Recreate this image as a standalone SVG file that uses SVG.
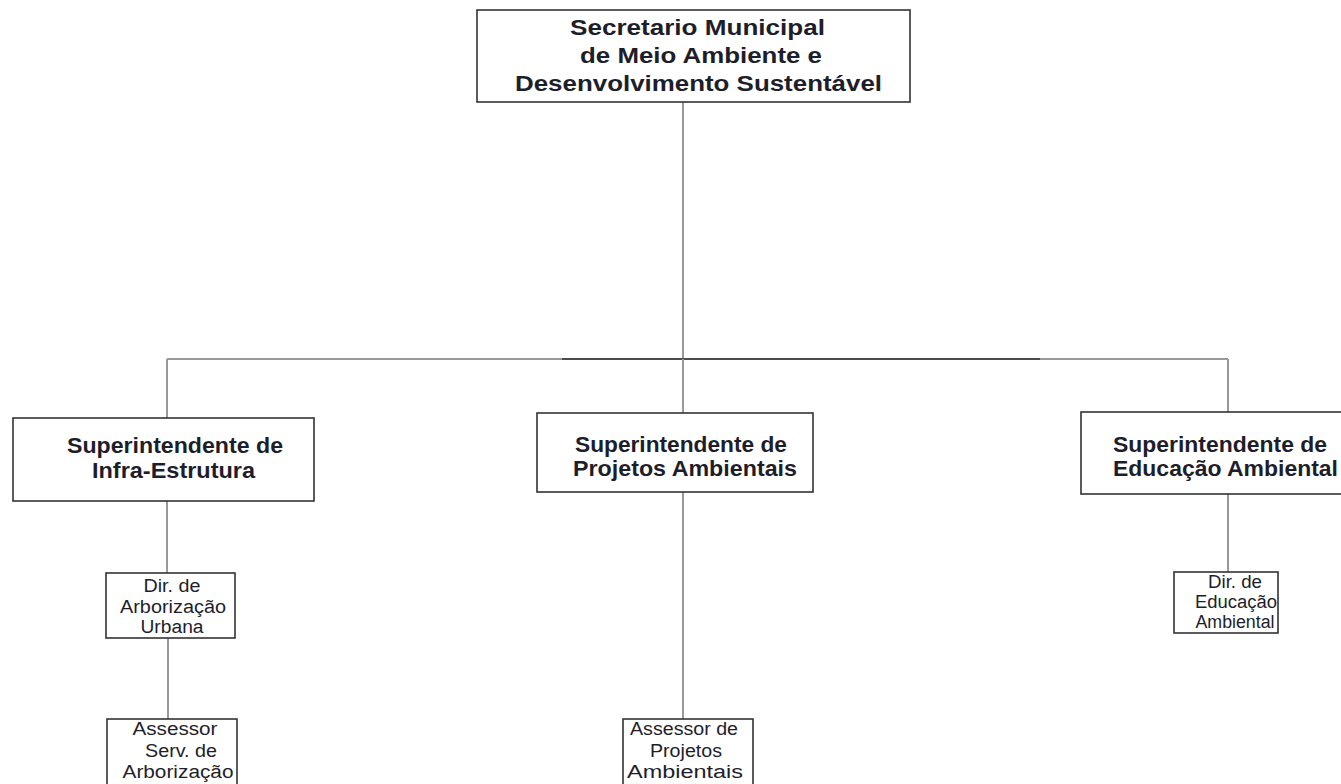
<svg xmlns="http://www.w3.org/2000/svg" width="1341" height="784" viewBox="0 0 1341 784">
<style>
.box{fill:#fff;stroke:#333;stroke-width:1.6}
.con{stroke:#999;stroke-width:2;fill:none}
.dark{stroke:#333;stroke-width:1.6;fill:none}
.b{font-family:"Liberation Sans",Arial,sans-serif;font-weight:bold;font-size:22px;fill:#1e1e2a}
.s{font-family:"Liberation Sans",Arial,sans-serif;font-size:18px;fill:#1e1e2a;text-anchor:middle}
</style>
<rect width="1341" height="784" fill="#fff"/>
<g id="connectors">
<line class="con" x1="683" y1="102" x2="683" y2="359"/>
<line class="con" x1="167" y1="359" x2="1228" y2="359"/>
<line class="dark" x1="562" y1="359" x2="1040" y2="359"/>
<line class="con" x1="167" y1="359" x2="167" y2="418"/>
<line class="con" x1="683" y1="359" x2="683" y2="413"/>
<line class="con" x1="1228" y1="359" x2="1228" y2="412"/>
<line class="con" x1="167" y1="501" x2="167" y2="573"/>
<line class="con" x1="168" y1="638" x2="168" y2="719"/>
<line class="con" x1="683" y1="492" x2="683" y2="719"/>
<line class="con" x1="1228" y1="494" x2="1228" y2="572"/>
</g>
<g id="secretario">
<rect class="box" x="477" y="10" width="433" height="92"/>
<text class="b" x="570" y="35" textLength="255" lengthAdjust="spacingAndGlyphs">Secretario Municipal</text>
<text class="b" x="580" y="63" textLength="242" lengthAdjust="spacingAndGlyphs">de Meio Ambiente e</text>
<text class="b" x="515" y="91" textLength="367" lengthAdjust="spacingAndGlyphs">Desenvolvimento Sustentável</text>
</g>
<g id="sup-infra">
<rect class="box" x="13" y="418" width="301" height="83"/>
<text class="b" x="67" y="453" textLength="216" lengthAdjust="spacingAndGlyphs">Superintendente de</text>
<text class="b" x="92" y="478" textLength="163" lengthAdjust="spacingAndGlyphs">Infra-Estrutura</text>
</g>
<g id="sup-projetos">
<rect class="box" x="537" y="413" width="276" height="79"/>
<text class="b" x="575" y="452" textLength="212" lengthAdjust="spacingAndGlyphs">Superintendente de</text>
<text class="b" x="573" y="476" textLength="224" lengthAdjust="spacingAndGlyphs">Projetos Ambientais</text>
</g>
<g id="sup-educacao">
<rect class="box" x="1081" y="412" width="280" height="82"/>
<text class="b" x="1113" y="452" textLength="214" lengthAdjust="spacingAndGlyphs">Superintendente de</text>
<text class="b" x="1113" y="476" textLength="225" lengthAdjust="spacingAndGlyphs">Educação Ambiental</text>
</g>
<g id="dir-arborizacao">
<rect class="box" x="106" y="573" width="129" height="65"/>
<text class="s" x="172" y="592" textLength="57" lengthAdjust="spacingAndGlyphs">Dir. de</text>
<text class="s" x="173" y="613" textLength="106" lengthAdjust="spacingAndGlyphs">Arborização</text>
<text class="s" x="172" y="633" textLength="63" lengthAdjust="spacingAndGlyphs">Urbana</text>
</g>
<g id="assessor-arborizacao">
<rect class="box" x="107" y="719" width="130" height="80"/>
<text class="s" x="175" y="735" textLength="85" lengthAdjust="spacingAndGlyphs">Assessor</text>
<text class="s" x="181" y="757" textLength="72" lengthAdjust="spacingAndGlyphs">Serv. de</text>
<text class="s" x="178" y="778" textLength="111" lengthAdjust="spacingAndGlyphs">Arborização</text>
</g>
<g id="assessor-projetos">
<rect class="box" x="623" y="719" width="130" height="80"/>
<text class="s" x="684" y="735" textLength="108" lengthAdjust="spacingAndGlyphs">Assessor de</text>
<text class="s" x="686" y="757" textLength="72" lengthAdjust="spacingAndGlyphs">Projetos</text>
<text class="s" x="685" y="778" textLength="116" lengthAdjust="spacingAndGlyphs">Ambientais</text>
</g>
<g id="dir-educacao">
<rect class="box" x="1174" y="572" width="104" height="61"/>
<text class="s" x="1235" y="588" textLength="54" lengthAdjust="spacingAndGlyphs">Dir. de</text>
<text class="s" x="1236" y="608" textLength="82" lengthAdjust="spacingAndGlyphs">Educação</text>
<text class="s" x="1235" y="628" textLength="79" lengthAdjust="spacingAndGlyphs">Ambiental</text>
</g>
</svg>
